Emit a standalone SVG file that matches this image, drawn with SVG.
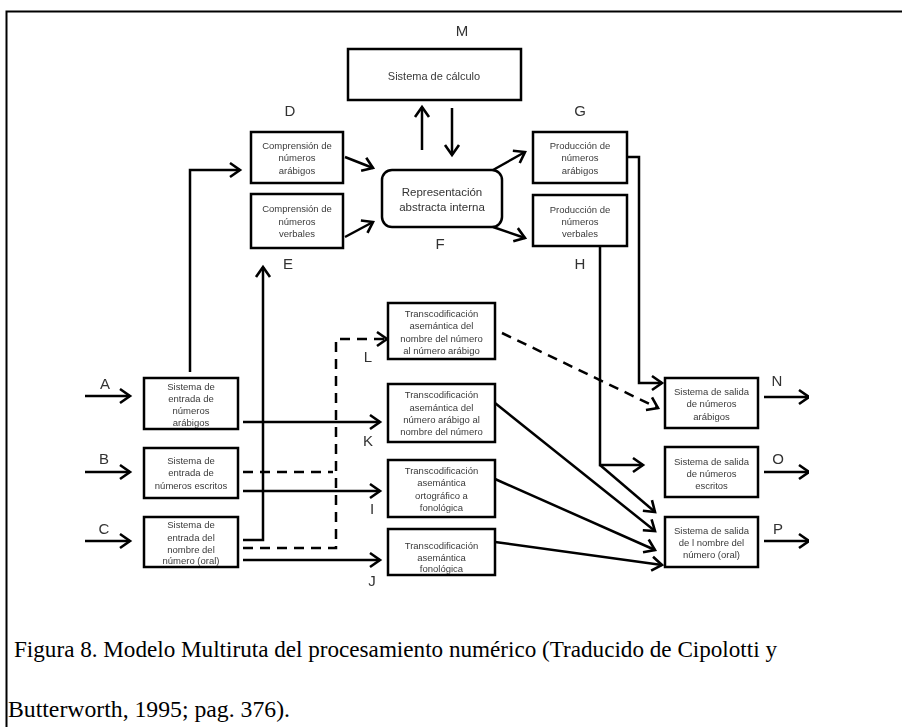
<svg xmlns="http://www.w3.org/2000/svg" width="902" height="727" viewBox="0 0 902 727">
  <style>
    .box { fill: #fff; stroke: #000; stroke-width: 2.5; }
    .t { font-family: "Liberation Sans", Arial, sans-serif; font-size: 9.5px; fill: #3a3a3a; text-anchor: middle; dominant-baseline: central; }
    .tb { font-family: "Liberation Sans", Arial, sans-serif; font-size: 11.5px; fill: #333; text-anchor: middle; dominant-baseline: central; }
    .lab { font-family: "Liberation Sans", Arial, sans-serif; font-size: 15px; fill: #333; text-anchor: middle; dominant-baseline: central; }
    .ln { fill: none; stroke: #000; stroke-width: 2.5; }
    .ar { marker-end: url(#ah); }
    .dash { stroke-dasharray: 10 7; }
    .cap { font-family: "Liberation Serif", "Times New Roman", serif; font-size: 24px; fill: #000; }
  </style>
  <defs>
    <marker id="ah" markerWidth="16" markerHeight="18" refX="12" refY="8" orient="auto" markerUnits="userSpaceOnUse" viewBox="0 0 16 16">
      <path d="M2,1 L12,8 L2,15" fill="none" stroke="#000" stroke-width="2.6"/>
    </marker>
    <filter id="soft" x="0" y="0" width="1" height="1">
      <feGaussianBlur stdDeviation="0.45"/>
    </filter>
  </defs>
  <rect width="902" height="727" fill="#fff"/>

  <!-- frame -->
  <path d="M6.5,727 V11.5 H902" fill="none" stroke="#000" stroke-width="2"/>

  <g id="diagram" filter="url(#soft)">
  <!-- connectors -->
  <g id="connectors">
    <path class="ln ar" d="M85,396 H130"/>
    <path class="ln ar" d="M85,472 H130"/>
    <path class="ln ar" d="M85,541 H130"/>
    <path class="ln ar" d="M190,372 V170 H240"/>
    <path class="ln ar" d="M243,422 H380"/>
    <path class="ln dash" d="M243,472 H333"/>
    <path class="ln ar" d="M243,491 H380"/>
    <path class="ln ar" d="M243,540 H263 V267"/>
    <path class="ln dash ar" d="M243,548 H336 V339 H387"/>
    <path class="ln ar" d="M243,560 H380"/>
    <path class="ln ar" d="M345,157 L373,168"/>
    <path class="ln ar" d="M345,237 L373,222"/>
    <path class="ln ar" d="M422,150 V107"/>
    <path class="ln ar" d="M452,108 V155"/>
    <path class="ln ar" d="M493,170 L525,152"/>
    <path class="ln ar" d="M493,227 L525,238"/>
    <path class="ln ar" d="M627,157 H639 V383 H662"/>
    <path class="ln ar" d="M600,246 V465 H643"/>
    <path class="ln ar" d="M600,465 L655,512"/>
    <path class="ln dash ar" d="M502,333 L658,408"/>
    <path class="ln ar" d="M495,403 L655,531"/>
    <path class="ln ar" d="M495,479 L655,550"/>
    <path class="ln ar" d="M495,542 L662,565"/>
    <path class="ln ar" d="M764,397 H809"/>
    <path class="ln ar" d="M764,472 H809"/>
    <path class="ln ar" d="M764,541 H809"/>
  </g>

  <!-- nodes -->
  <g id="M">
    <text class="lab" x="462" y="30">M</text>
    <rect class="box" x="348" y="49" width="173" height="51"/>
    <text class="t" x="434" y="76" style="font-size:11px">Sistema de cálculo</text>
  </g>
  <g id="D">
    <text class="lab" x="290" y="110">D</text>
    <rect class="box" x="251" y="132" width="92" height="51"/>
    <text class="t" x="297" y="145">Comprensión de</text>
    <text class="t" x="297" y="157.5">números</text>
    <text class="t" x="297" y="170">arábigos</text>
  </g>
  <g id="E">
    <text class="lab" x="288" y="263">E</text>
    <rect class="box" x="251" y="194" width="92" height="54"/>
    <text class="t" x="297" y="208">Comprensión de</text>
    <text class="t" x="297" y="221">números</text>
    <text class="t" x="297" y="233">verbales</text>
  </g>
  <g id="F">
    <text class="lab" x="440" y="243">F</text>
    <rect class="box" x="382" y="170" width="120" height="57" rx="10"/>
    <text class="tb" x="442" y="192">Representación</text>
    <text class="tb" x="442" y="207">abstracta interna</text>
  </g>
  <g id="G">
    <text class="lab" x="580" y="110">G</text>
    <rect class="box" x="533" y="132" width="94" height="51"/>
    <text class="t" x="580" y="145">Producción de</text>
    <text class="t" x="580" y="157.5">números</text>
    <text class="t" x="580" y="170">arábigos</text>
  </g>
  <g id="H">
    <text class="lab" x="580" y="263">H</text>
    <rect class="box" x="533" y="195" width="94" height="51"/>
    <text class="t" x="580" y="209">Producción de</text>
    <text class="t" x="580" y="221">números</text>
    <text class="t" x="580" y="233">verbales</text>
  </g>
  <g id="L">
    <text class="lab" x="368" y="356">L</text>
    <rect class="box" x="388" y="303" width="107" height="56"/>
    <text class="t" x="441.5" y="313">Transcodificación</text>
    <text class="t" x="441.5" y="325">asemántica del</text>
    <text class="t" x="441.5" y="338">nombre del número</text>
    <text class="t" x="441.5" y="350">al número arábigo</text>
  </g>
  <g id="K">
    <text class="lab" x="368" y="440">K</text>
    <rect class="box" x="388" y="384" width="107" height="58"/>
    <text class="t" x="441.5" y="394">Transcodificación</text>
    <text class="t" x="441.5" y="407">asemántica del</text>
    <text class="t" x="441.5" y="419">número arábigo al</text>
    <text class="t" x="441.5" y="431">nombre del número</text>
  </g>
  <g id="I">
    <text class="lab" x="372" y="508">I</text>
    <rect class="box" x="388" y="460" width="107" height="57"/>
    <text class="t" x="441.5" y="470">Transcodificación</text>
    <text class="t" x="441.5" y="482">asemántica</text>
    <text class="t" x="441.5" y="495">ortográfico a</text>
    <text class="t" x="441.5" y="507">fonológica</text>
  </g>
  <g id="J">
    <text class="lab" x="372" y="580">J</text>
    <rect class="box" x="388" y="529" width="107" height="46"/>
    <text class="t" x="441.5" y="545">Transcodificación</text>
    <text class="t" x="441.5" y="557">asemántica</text>
    <text class="t" x="441.5" y="568">fonológica</text>
  </g>
  <g id="A">
    <text class="lab" x="105" y="383">A</text>
    <rect class="box" x="144" y="378" width="94" height="51"/>
    <text class="t" x="191" y="386">Sistema de</text>
    <text class="t" x="191" y="398">entrada de</text>
    <text class="t" x="191" y="410">números</text>
    <text class="t" x="191" y="422">arábigos</text>
  </g>
  <g id="B">
    <text class="lab" x="104" y="458">B</text>
    <rect class="box" x="144" y="448" width="94" height="50"/>
    <text class="t" x="191" y="460">Sistema de</text>
    <text class="t" x="191" y="472">entrada de</text>
    <text class="t" x="191" y="485">números escritos</text>
  </g>
  <g id="C">
    <text class="lab" x="104" y="528">C</text>
    <rect class="box" x="144" y="517" width="94" height="50"/>
    <text class="t" x="191" y="524">Sistema de</text>
    <text class="t" x="191" y="537">entrada del</text>
    <text class="t" x="191" y="549">nombre del</text>
    <text class="t" x="191" y="560">número (oral)</text>
  </g>
  <g id="N">
    <text class="lab" x="777" y="380">N</text>
    <rect class="box" x="665" y="378" width="93" height="50"/>
    <text class="t" x="711.5" y="391">Sistema de salida</text>
    <text class="t" x="711.5" y="403">de números</text>
    <text class="t" x="711.5" y="416">arábigos</text>
  </g>
  <g id="O">
    <text class="lab" x="778" y="458">O</text>
    <rect class="box" x="665" y="447" width="93" height="50"/>
    <text class="t" x="711.5" y="461">Sistema de salida</text>
    <text class="t" x="711.5" y="473">de números</text>
    <text class="t" x="711.5" y="485">escritos</text>
  </g>
  <g id="P">
    <text class="lab" x="778" y="528">P</text>
    <rect class="box" x="665" y="517" width="93" height="50"/>
    <text class="t" x="711.5" y="530">Sistema de salida</text>
    <text class="t" x="711.5" y="542">de l nombre del</text>
    <text class="t" x="711.5" y="554">número (oral)</text>
  </g>
  </g>

  <!-- caption -->
  <text class="cap" x="14" y="657" textLength="763" lengthAdjust="spacingAndGlyphs">Figura 8. Modelo Multiruta del procesamiento numérico (Traducido de Cipolotti y</text>
  <text class="cap" x="8" y="717" textLength="282" lengthAdjust="spacingAndGlyphs">Butterworth, 1995; pag. 376).</text>
</svg>
